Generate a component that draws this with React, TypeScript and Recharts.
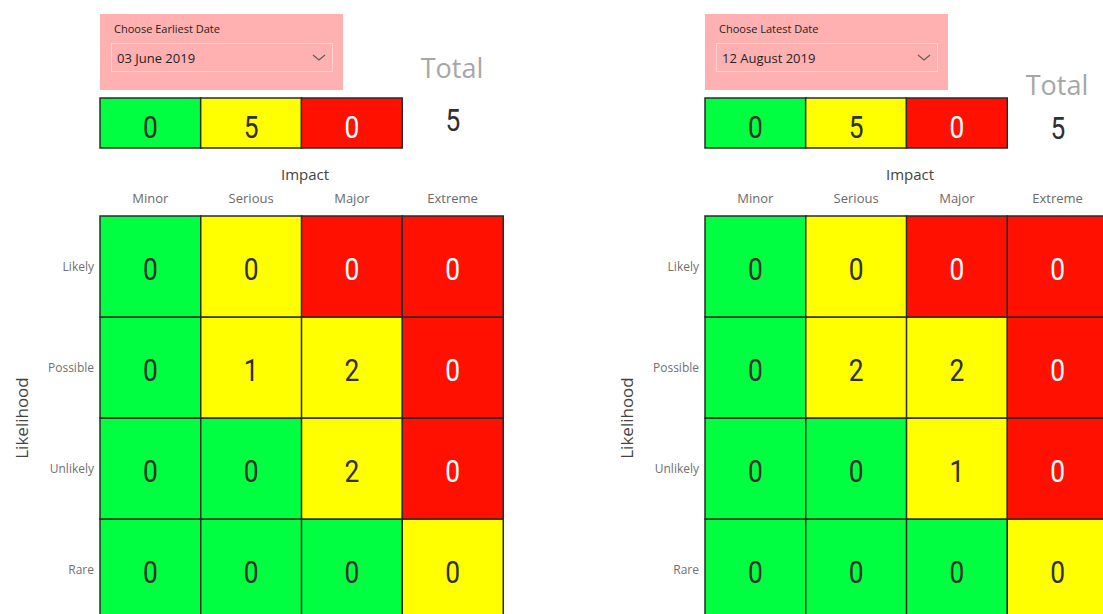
import { Bar, BarChart, Cell, LabelList, XAxis, YAxis } from "recharts";

const impacts = ["Minor", "Serious", "Major", "Extreme"];
const likelihoods = ["Likely", "Possible", "Unlikely", "Rare"];

// rating of each cell: rows follow likelihoods, columns follow impacts
const ratings = [
  ["low", "medium", "high", "high"],
  ["low", "medium", "medium", "high"],
  ["low", "low", "medium", "high"],
  ["low", "low", "low", "medium"],
];

const earliestCounts = [
  [0, 0, 0, 0],
  [0, 1, 2, 0],
  [0, 0, 2, 0],
  [0, 0, 0, 0],
];
const latestCounts = [
  [0, 0, 0, 0],
  [0, 2, 2, 0],
  [0, 0, 1, 0],
  [0, 0, 0, 0],
];

const levels = ["low", "medium", "high"];
const earliestSummary = [0, 5, 0];
const latestSummary = [0, 5, 0];
const earliestTotal = 5;
const latestTotal = 5;

const earliestDate = "03 June 2019";
const latestDate = "12 August 2019";

const palette: Record<string, string> = {
  low: "#00ff40",
  medium: "#ffff00",
  high: "#ff1000",
};

const uiFont = "'Segoe UI', 'Open Sans', sans-serif";
const numFont = "Roboto, sans-serif";
const border = "#2b2b2b";

function countLabel(getLevel: (index: number) => string, dy: number) {
  return (props: any) => {
    const box = props.viewBox && props.viewBox.width != null ? props.viewBox : props;
    const { x, y, width, height } = box;
    const level = getLevel(props.index);
    return (
      <text
        transform={`translate(${x + width / 2} ${y + height / 2 + dy}) scale(0.85 1)`}
        textAnchor="middle"
        dominantBaseline="central"
        fontFamily={numFont}
        fontSize={31}
        fill={level === "high" ? "#ffffff" : "#303030"}
      >
        {props.value}
      </text>
    );
  };
}

function Matrix({ counts }: { counts: number[][] }) {
  const table = impacts.map((impact, c) => {
    const row: Record<string, string | number> = { impact };
    likelihoods.forEach((l, r) => {
      row[l] = 1;
      row["n_" + l] = counts[r][c];
    });
    return row;
  });
  const stackOrder = [...likelihoods].reverse();

  return (
    <BarChart
      width={504}
      height={470}
      data={table}
      margin={{ top: 42, right: 1, bottom: 0, left: 40 }}
      barCategoryGap={0}
    >
      <XAxis
        dataKey="impact"
        orientation="top"
        height={24}
        axisLine={false}
        tickLine={false}
        interval={0}
        tickMargin={7}
        tick={{ fill: "#6a6a6a", fontSize: 13, fontFamily: uiFont }}
      />
      <YAxis
        type="number"
        domain={[0, 4]}
        ticks={[0.5, 1.5, 2.5, 3.5]}
        tickFormatter={(v: number) => likelihoods[3 - Math.floor(v)]}
        width={60}
        axisLine={false}
        tickLine={false}
        tickMargin={0}
        tick={{ fill: "#707070", fontSize: 12, fontFamily: uiFont }}
      />
      {stackOrder.map((l) => {
        const r = likelihoods.indexOf(l);
        return (
          <Bar key={l} dataKey={l} stackId="m" isAnimationActive={false} stroke={border} strokeWidth={1.5}>
            {impacts.map((imp, c) => (
              <Cell key={imp} fill={palette[ratings[r][c]]} />
            ))}
            <LabelList dataKey={"n_" + l} content={countLabel((c) => ratings[r][c], 3)} />
          </Bar>
        );
      })}
    </BarChart>
  );
}

function Summary({ values }: { values: number[] }) {
  const table = levels.map((level, i) => ({ level, one: 1, n: values[i] }));
  return (
    <BarChart width={304} height={52} data={table} margin={{ top: 1, right: 1, bottom: 1, left: 1 }} barCategoryGap={0}>
      <XAxis dataKey="level" hide />
      <YAxis type="number" domain={[0, 1]} hide />
      <Bar dataKey="one" isAnimationActive={false} stroke={border} strokeWidth={1.5}>
        {table.map((d) => (
          <Cell key={d.level} fill={palette[d.level]} />
        ))}
        <LabelList dataKey="n" content={countLabel((i) => levels[i], 4)} />
      </Bar>
    </BarChart>
  );
}

function DatePicker({ title, value, left }: { title: string; value: string; left: number }) {
  return (
    <div style={{ position: "absolute", left, top: 14, width: 243, height: 76, background: "#ffb0b0" }}>
      <div style={{ position: "absolute", left: 14, top: 8, fontSize: 11, color: "#252423" }}>{title}</div>
      <div
        style={{
          position: "absolute",
          left: 11,
          top: 29,
          width: 220,
          height: 27,
          border: "1px solid #ffd3d3",
        }}
      >
        <div style={{ position: "absolute", left: 5, top: 7, fontSize: 13, color: "#252423" }}>{value}</div>
        <svg style={{ position: "absolute", left: 200, top: 10 }} width={14} height={8}>
          <polyline points="1,1 7,6 13,1" fill="none" stroke="#605e5c" strokeWidth={1.2} />
        </svg>
      </div>
    </div>
  );
}

function Panel({
  offset,
  title,
  date,
  counts,
  summary,
  total,
  totalY,
  numberY,
}: {
  offset: number;
  title: string;
  date: string;
  counts: number[][];
  summary: number[];
  total: number;
  totalY: number;
  numberY: number;
}) {
  return (
    <>
      <DatePicker title={title} value={date} left={offset + 100} />
      <div style={{ position: "absolute", left: offset + 99, top: 97 }}>
        <Summary values={summary} />
      </div>
      <div
        style={{
          position: "absolute",
          left: offset + 452,
          top: totalY,
          transform: "translate(-50%, -50%)",
          fontSize: 27,
          color: "#a6a6a6",
        }}
      >
        Total
      </div>
      <div
        style={{
          position: "absolute",
          left: offset + 453,
          top: numberY,
          transform: "translate(-50%, -50%) scaleX(0.85)",
          fontSize: 31,
          fontFamily: numFont,
          color: "#303030",
        }}
      >
        {total}
      </div>
      <div
        style={{
          position: "absolute",
          left: offset + 305,
          top: 174,
          transform: "translate(-50%, -50%)",
          fontSize: 15,
          color: "#444",
        }}
      >
        Impact
      </div>
      <div
        style={{
          position: "absolute",
          left: offset + 22,
          top: 418,
          transform: "translate(-50%, -50%) rotate(-90deg)",
          fontSize: 17,
          color: "#444",
          whiteSpace: "nowrap",
        }}
      >
        Likelihood
      </div>
      <div style={{ position: "absolute", left: offset, top: 150 }}>
        <Matrix counts={counts} />
      </div>
    </>
  );
}

export default function App() {
  return (
    <div
      style={{
        position: "fixed",
        left: 0,
        top: 0,
        width: 1103,
        height: 614,
        overflow: "hidden",
        background: "#fff",
        fontFamily: uiFont,
        lineHeight: 1.2,
      }}
    >
      <Panel
        offset={0}
        title="Choose Earliest Date"
        date={earliestDate}
        counts={earliestCounts}
        summary={earliestSummary}
        total={earliestTotal}
        totalY={68}
        numberY={121}
      />
      <Panel
        offset={605}
        title="Choose Latest Date"
        date={latestDate}
        counts={latestCounts}
        summary={latestSummary}
        total={latestTotal}
        totalY={85}
        numberY={129}
      />
    </div>
  );
}
